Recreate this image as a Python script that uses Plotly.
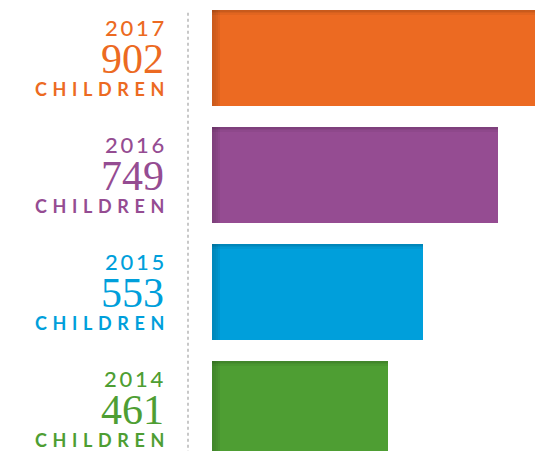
import plotly.graph_objects as go

years = ["2017", "2016", "2015", "2014"]
children = [902, 749, 553, 461]
colors = ["#EC6A22", "#954C92", "#009FDB", "#4E9E33"]
unit_label = "CHILDREN"

TS = "\u2009"
HS = "\u200A"
def spaced(s, sep):
    return sep.join(list(s))

pos = list(range(len(years)))
BAR_W = 0.82

fig = go.Figure()
fig.add_trace(go.Bar(
    x=children, y=pos, orientation="h",
    marker=dict(color=colors, line=dict(width=0)),
    width=BAR_W, hoverinfo="skip",
))
# subtle shading: darker top edge
for k, a in enumerate([0.15, 0.09, 0.045]):
    fig.add_trace(go.Bar(
        x=children, y=pos, orientation="h",
        marker=dict(color=f"rgba(0,0,0,{a})", line=dict(width=0)),
        width=0.013, offset=-BAR_W / 2 + k * 0.013, hoverinfo="skip",
    ))
# subtle shading: darker left edge
for k, a in enumerate([0.05, 0.04, 0.03, 0.02]):
    fig.add_trace(go.Bar(
        x=[5 + 5 * (3 - k)] * len(pos), y=pos, orientation="h",
        marker=dict(color=f"rgba(0,0,0,{a})", line=dict(width=0)),
        width=BAR_W, hoverinfo="skip",
    ))

ann = []
XL = -0.139
for i, (yr, n, c) in enumerate(zip(years, children, colors)):
    ann.append(dict(x=XL, y=i - 0.257, xref="paper", yref="y", xanchor="right", yanchor="middle",
                    text=spaced(yr, TS), showarrow=False,
                    font=dict(family="Lato", size=22, color=c, weight=500)))
    ann.append(dict(x=XL, y=i + 0.005, xref="paper", yref="y", xanchor="right", yanchor="middle",
                    text=str(n), showarrow=False,
                    font=dict(family="Liberation Serif", size=42, color=c)))
    ann.append(dict(x=XL, y=i + 0.265, xref="paper", yref="y", xanchor="right", yanchor="middle",
                    text=spaced(unit_label, TS + TS + HS), showarrow=False,
                    font=dict(family="Lato", size=18, color=c, weight=700)))

fig.update_layout(
    width=543, height=451,
    margin=dict(l=204, r=8, t=0, b=8, pad=0),
    paper_bgcolor="white", plot_bgcolor="white",
    showlegend=False,
    barmode="overlay",
    bargap=0,
    xaxis=dict(range=[0, 866], visible=False, fixedrange=True),
    yaxis=dict(range=[3.359, -0.427], visible=False, fixedrange=True),
    annotations=ann,
    shapes=[dict(type="line", xref="paper", yref="paper", x0=-0.0725, x1=-0.0725,
                 y0=-0.02, y1=1 - 2 / 443, line=dict(color="#C8C8C8", width=2, dash="dot"))],
)

fig.write_html("out.html")
